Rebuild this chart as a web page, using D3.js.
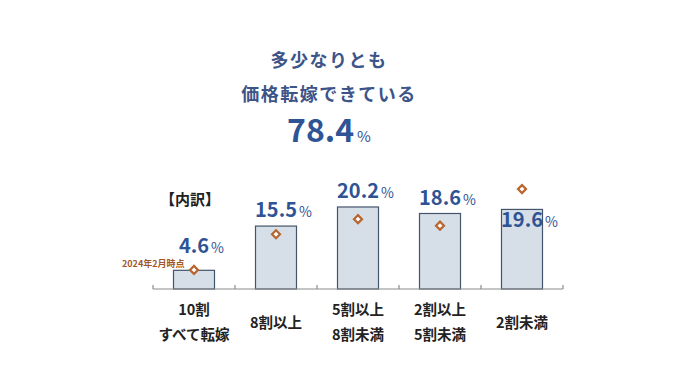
<!DOCTYPE html>
<html>
<head>
<meta charset="utf-8">
<script src="https://cdn.jsdelivr.net/npm/d3@7"></script>
<style>
  body { margin: 0; background: #fff; }
  text { font-family: "Noto Sans CJK JP", "Noto Sans", sans-serif; }
</style>
</head>
<body>
<div id="chart"></div>
<script>
// data
var categories = ["10割\nすべて転嫁", "8割以上", "5割以上\n8割未満", "2割以上\n5割未満", "2割未満"];
var current = [4.6, 15.5, 20.2, 18.6, 19.6];
var feb2024 = [4.7, 13.5, 17.2, 15.6, 24.6];
var totalValue = "78.4";
var titleLines = ["多少なりとも", "価格転嫁できている"];

// label offsets from bar top (layout only)
var labelDy = [-17, -9, -9, -8, 18];

var W = 680, H = 382;
var svg = d3.select("#chart").append("svg")
    .attr("width", W).attr("height", H);

var blue = "#2f5496", titleCol = "#3c5488";

// title
svg.selectAll(".title")
  .data(titleLines)
  .enter().append("text")
    .attr("x", 329)
    .attr("y", function(d, i) { return 67 + i * 34; })
    .attr("text-anchor", "middle")
    .attr("fill", titleCol)
    .attr("font-size", 18)
    .attr("font-weight", 700)
    .attr("letter-spacing", 1.5)
    .text(function(d) { return d; });

var tot = svg.append("text")
    .attr("x", 287).attr("y", 142)
    .attr("fill", blue).attr("font-weight", 700);
tot.append("tspan").attr("font-size", 32).text(totalValue);
tot.append("tspan").attr("font-size", 15).attr("font-weight", 400).attr("dx", 3).text("%");

svg.append("text")
    .attr("x", 160).attr("y", 205)
    .attr("font-size", 15).attr("font-weight", 700).attr("fill", "#222")
    .text("【内訳】");

// scales
var baseY = 289;
var x = d3.scaleBand()
    .domain(d3.range(categories.length))
    .range([153, 563])
    .paddingInner(0.5)
    .paddingOuter(0.25);

var y = d3.scaleLinear()
    .domain([0, 25])
    .range([baseY, baseY - 25 * 4.06]);

function cx(i) { return x(i) + x.bandwidth() / 2; }

// bars
svg.selectAll(".bar")
  .data(current)
  .enter().append("rect")
    .attr("x", function(d, i) { return x(i); })
    .attr("y", function(d) { return y(d); })
    .attr("width", x.bandwidth())
    .attr("height", function(d) { return baseY - y(d); })
    .attr("fill", "#d6dfe8")
    .attr("stroke", "#44546a")
    .attr("stroke-width", 1.2);

// axis line + ticks
var step = x.step();
svg.append("line")
    .attr("x1", 153).attr("x2", 563)
    .attr("y1", baseY).attr("y2", baseY)
    .attr("stroke", "#8c8c8c").attr("stroke-width", 1.2);
svg.selectAll(".tick")
  .data(d3.range(categories.length + 1))
  .enter().append("line")
    .attr("x1", function(i) { return 153 + i * step; })
    .attr("x2", function(i) { return 153 + i * step; })
    .attr("y1", baseY - 4).attr("y2", baseY)
    .attr("stroke", "#8c8c8c").attr("stroke-width", 1.2);

// value labels: number centred on the bar, % appended
svg.selectAll(".val")
  .data(current)
  .enter().append("text")
    .attr("x", function(d, i) { return cx(i); })
    .attr("y", function(d, i) { return y(d) + labelDy[i]; })
    .attr("text-anchor", "middle")
    .attr("fill", blue).attr("font-weight", 700).attr("font-size", 20)
    .text(function(d) { return d.toFixed(1); })
    .each(function(d, i) {
      var w = this.getComputedTextLength();
      svg.append("text")
        .attr("x", cx(i) + w / 2 + 2)
        .attr("y", y(d) + labelDy[i])
        .attr("fill", blue).attr("font-size", 14)
        .text("%");
    });

// diamonds (2024年2月時点)
svg.selectAll(".dia")
  .data(feb2024)
  .enter().append("path")
    .attr("d", d3.symbol().type(d3.symbolSquare).size(32))
    .attr("transform", function(d, i) {
      return "translate(" + cx(i) + "," + y(d) + ") rotate(45)";
    })
    .attr("fill", "#fff")
    .attr("stroke", "#b8652e")
    .attr("stroke-width", 2.2);

svg.append("text")
    .attr("x", 122).attr("y", 267)
    .attr("font-size", 9).attr("font-weight", 700).attr("fill", "#a0582a")
    .text("2024年2月時点");

// category labels
svg.selectAll(".cat")
  .data(categories)
  .enter().append("text")
    .attr("text-anchor", "middle")
    .attr("font-size", 14.5).attr("font-weight", 700).attr("fill", "#222")
    .each(function(d, i) {
      var lines = d.split("\n");
      var t = d3.select(this);
      var y0 = lines.length > 1 ? 315 : 328;
      lines.forEach(function(l, j) {
        t.append("tspan")
          .attr("x", cx(i))
          .attr("y", y0 + j * 25)
          .text(l);
      });
    });
</script>
</body>
</html>
